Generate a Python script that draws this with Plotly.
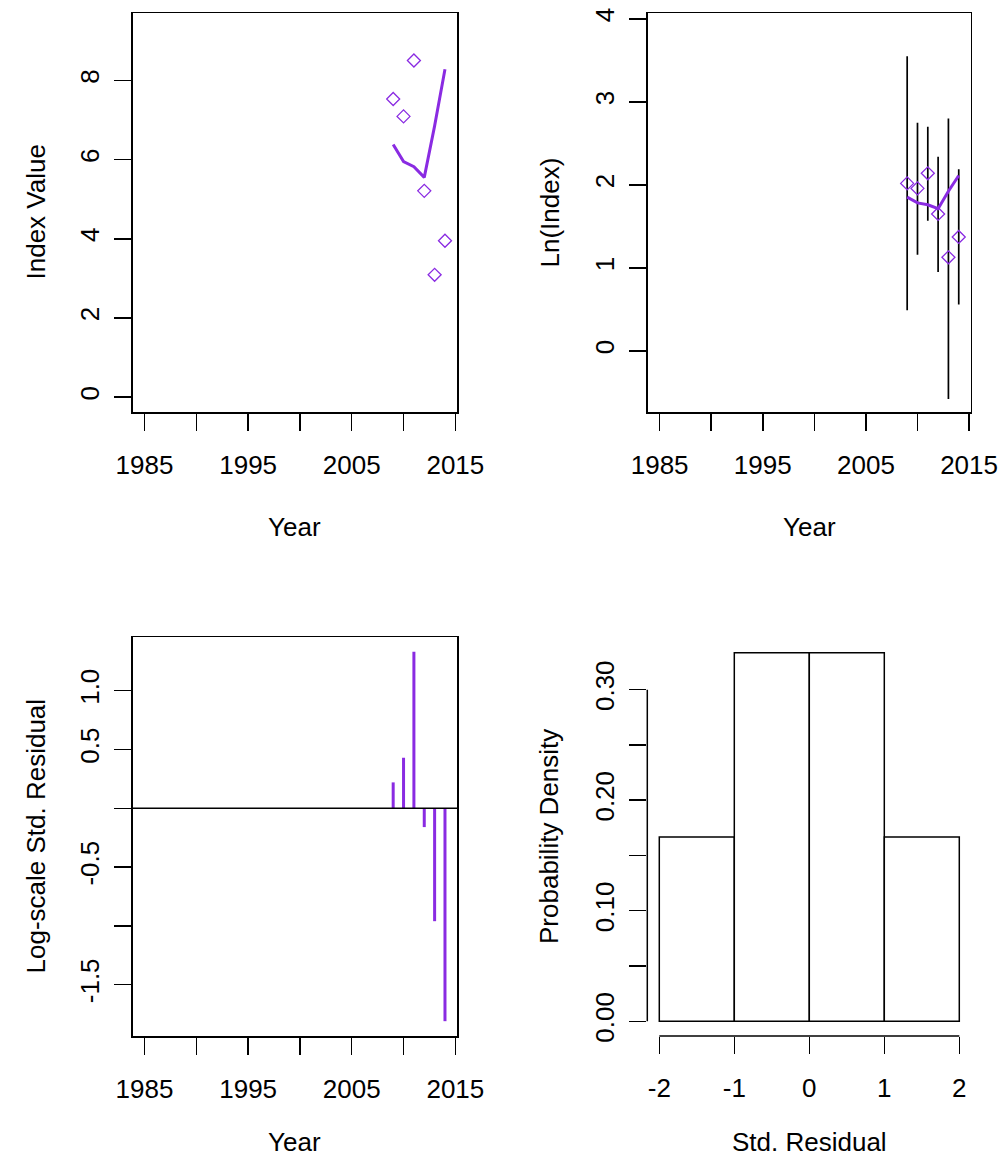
import numpy as np
import plotly.graph_objects as go

# ---------------- data ----------------
years = [2009, 2010, 2011, 2012, 2013, 2014]
obs_index = [7.53, 7.09, 8.50, 5.21, 3.09, 3.95]
fit_index = [6.38, 5.95, 5.82, 5.55, 6.85, 8.28]
ln_lower = [0.49, 1.16, 1.57, 0.95, -0.58, 0.56]
ln_upper = [3.55, 2.75, 2.70, 2.34, 2.80, 2.19]
std_resid = [0.22, 0.43, 1.33, -0.16, -0.96, -1.81]
hist_edges = [-2, -1, 0, 1, 2]
hist_density = [0.1667, 0.3333, 0.3333, 0.1667]

year_ticks = [1985, 1990, 1995, 2000, 2005, 2010, 2015]
year_ticktext = ["1985", "", "1995", "", "2005", "", "2015"]
idx_ticks = [0, 2, 4, 6, 8]
ln_ticks = [0, 1, 2, 3, 4]
res_ticks = [-1.5, -1.0, -0.5, 0.0, 0.5, 1.0]
res_ticktext = ["-1.5", "", "-0.5", "", "0.5", "1.0"]
dens_ticks = [0.00, 0.05, 0.10, 0.15, 0.20, 0.25, 0.30]
dens_ticktext = ["0.00", "", "0.10", "", "0.20", "", "0.30"]
hist_xticks = [-2, -1, 0, 1, 2]
hist_xticktext = ["-2", "-1", "0", "1", "2"]

# ---------------- styling ----------------
W, H = 1000, 1163
PURPLE = "#8A2BE2"
FONT = "Liberation Sans, Arial, sans-serif"
FS = 26

def xd(a, b):
    return [a / W, b / W]

def yd(top, bottom):
    return [1 - bottom / H, 1 - top / H]

fig = go.Figure()

# Panel 1: index values
fig.add_trace(go.Scatter(x=years, y=fit_index, mode="lines",
                         line=dict(color=PURPLE, width=3), xaxis="x", yaxis="y"))
fig.add_trace(go.Scatter(x=years, y=obs_index, mode="markers",
                         marker=dict(symbol="diamond-open", size=10, color=PURPLE,
                                     line=dict(width=1.3, color=PURPLE)),
                         xaxis="x", yaxis="y"))

# Panel 2: ln(index) with intervals
ex, ey = [], []
for yr, lo, hi in zip(years, ln_lower, ln_upper):
    ex += [yr, yr, None]
    ey += [lo, hi, None]
fig.add_trace(go.Scatter(x=ex, y=ey, mode="lines", line=dict(color="black", width=1.7),
                         xaxis="x2", yaxis="y2"))
fig.add_trace(go.Scatter(x=years, y=np.log(fit_index), mode="lines",
                         line=dict(color=PURPLE, width=3), xaxis="x2", yaxis="y2"))
fig.add_trace(go.Scatter(x=years, y=np.log(obs_index), mode="markers",
                         marker=dict(symbol="diamond-open", size=10, color=PURPLE,
                                     line=dict(width=1.3, color=PURPLE)),
                         xaxis="x2", yaxis="y2"))

# Panel 3: residual spikes
rx, ry = [], []
for yr, r in zip(years, std_resid):
    rx += [yr, yr, None]
    ry += [0, r, None]
fig.add_trace(go.Scatter(x=rx, y=ry, mode="lines", line=dict(color=PURPLE, width=3),
                         xaxis="x3", yaxis="y3"))

# Panel 4: histogram
centers = [(a + b) / 2 for a, b in zip(hist_edges[:-1], hist_edges[1:])]
widths = [b - a for a, b in zip(hist_edges[:-1], hist_edges[1:])]
fig.add_trace(go.Bar(x=centers, y=hist_density, width=widths,
                     marker=dict(color="white", line=dict(color="black", width=1.5)),
                     xaxis="x4", yaxis="y4"))

common = dict(showline=True, linecolor="black", linewidth=1.5, ticks="outside",
              ticklen=17, tickwidth=1.5, tickcolor="black", showgrid=False,
              zeroline=False, automargin=False,
              tickfont=dict(family=FONT, size=FS, color="black"))

XS = 12  # x tick label standoff
YS = 5   # y tick label standoff
xr = [1983.84, 2015.16]
fig.update_layout(
    width=W, height=H, margin=dict(l=0, r=0, t=0, b=0, autoexpand=False),
    paper_bgcolor="white", plot_bgcolor="white", showlegend=False, bargap=0,
    hovermode=False,
    xaxis=dict(domain=xd(132.5, 457), range=xr, tickvals=year_ticks, ticktext=year_ticktext,
               mirror=True, anchor="y", ticklabelstandoff=XS, **common),
    yaxis=dict(domain=yd(13, 412), range=[-0.373, 9.70], tickvals=idx_ticks,
               mirror=True, anchor="x", tickangle=-90, ticklabelstandoff=YS, **common),
    xaxis2=dict(domain=xd(647.7, 970.7), range=xr, tickvals=year_ticks, ticktext=year_ticktext,
                mirror=True, anchor="y2", ticklabelstandoff=XS, **common),
    yaxis2=dict(domain=yd(13, 412), range=[-0.736, 4.072], tickvals=ln_ticks,
                mirror=True, anchor="x2", tickangle=-90, ticklabelstandoff=YS, **common),
    xaxis3=dict(domain=xd(132.5, 457), range=xr, tickvals=year_ticks, ticktext=year_ticktext,
                mirror=True, anchor="y3", ticklabelstandoff=XS, **common),
    yaxis3=dict(domain=yd(637, 1036), range=[-1.936, 1.456], tickvals=res_ticks,
                ticktext=res_ticktext, mirror=True, anchor="x3", tickangle=-90,
                ticklabelstandoff=YS, **common),
    xaxis4=dict(domain=xd(647.3, 971.3), range=[-2.16, 2.16], tickvals=hist_xticks,
                ticktext=hist_xticktext, anchor="y4", ticklabelstandoff=XS,
                **{**common, "showline": False}),
    yaxis4=dict(domain=yd(638, 1036), range=[-0.01333, 0.3467], tickvals=dens_ticks,
                ticktext=dens_ticktext, anchor="x4", tickangle=-90, ticklabelstandoff=YS,
                **{**common, "showline": False}),
)

# zero line in residual panel
fig.add_shape(type="line", xref="x3 domain", yref="y3", x0=0, x1=1, y0=0, y1=0,
              line=dict(color="black", width=1.5))
# histogram axis lines spanning only the tick range
fig.add_shape(type="line", xref="x4 domain", yref="y4", x0=0, x1=0,
              y0=dens_ticks[0], y1=dens_ticks[-1], line=dict(color="black", width=1.5))
fig.add_shape(type="line", xref="x4", yref="y4 domain", x0=hist_xticks[0], x1=hist_xticks[-1],
              y0=0, y1=0, line=dict(color="black", width=1.5))

def title(text, px, py, angle=0):
    fig.add_annotation(text=text, x=px / W, y=1 - py / H, xref="paper", yref="paper",
                       showarrow=False, textangle=angle, xanchor="center", yanchor="middle",
                       font=dict(family=FONT, size=FS, color="black"))

title("Index Value", 35, 212.5, -90)
title("Year", 294.7, 527)
title("Ln(Index)", 549, 212.5, -90)
title("Year", 809, 527)
title("Log-scale Std. Residual", 35, 836.5, -90)
title("Year", 294.7, 1142)
title("Probability Density", 549, 837, -90)
title("Std. Residual", 809, 1142)

fig.write_html("out.html", config={"displayModeBar": False, "staticPlot": True},
               post_script="document.body.style.margin='0';document.body.style.overflow='hidden';")
